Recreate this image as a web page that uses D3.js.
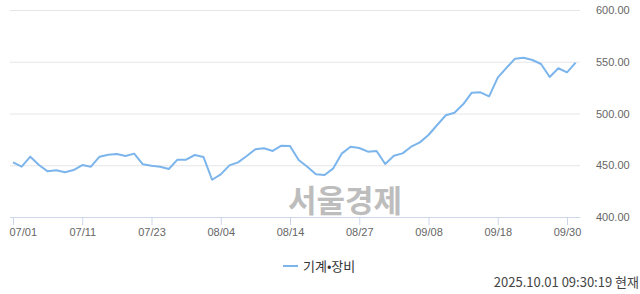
<!DOCTYPE html>
<html>
<head>
<meta charset="utf-8">
<script src="https://cdn.jsdelivr.net/npm/d3@7"></script>
<style>
  body { margin: 0; background: #fff; }
  svg { display: block; font-family: 'Noto Sans CJK KR', 'Noto Sans', sans-serif; }
</style>
</head>
<body>
<div id="chart"></div>
<script>
// trading days, 07/01 ~ 10/01
let dates = ['07/01','07/02','07/03','07/04','07/07','07/08','07/09','07/10','07/11','07/14','07/15','07/16','07/17','07/18','07/21','07/22','07/23','07/24','07/25','07/28','07/29','07/30','07/31',
  '08/01','08/04','08/05','08/06','08/07','08/08','08/11','08/12','08/13','08/14','08/18','08/19','08/20','08/21','08/22','08/25','08/26','08/27','08/28','08/29',
  '09/01','09/02','09/03','09/04','09/05','09/08','09/09','09/10','09/11','09/12','09/15','09/16','09/17','09/18','09/19','09/22','09/23','09/24','09/25','09/26','09/29','09/30',
  '10/01'];
let values = [452.8,448.6,458.3,450.2,444.1,445.1,443.2,445.4,450.2,448.6,458.3,460.2,460.9,458.9,461.2,450.9,449.6,448.6,446.4,455.4,455.4,459.9,458.0,
  436.0,441.2,449.9,452.8,458.9,465.4,466.4,463.8,468.9,468.6,455.1,448.6,441.2,440.6,447.0,461.5,467.9,466.7,463.1,463.8,
  451.2,459.2,461.5,467.9,472.1,479.2,488.9,498.3,500.8,508.9,520.1,520.5,516.6,534.6,544.0,553.0,553.9,551.7,547.8,535.3,543.7,539.8,
  549.1];
let xTicks = ['07/01','07/11','07/23','08/04','08/14','08/27','09/08','09/18','09/30'];
let yTicks = [400, 450, 500, 550, 600];
let seriesName = '기계•장비';
let stamp = '2025.10.01 09:30:19 현재';

let W = 640, H = 294;
let plot = { left: 10, right: 580, top: 10, bottom: 217 };

var svg = d3.select('#chart')
  .append('svg')
    .attr('width', W)
    .attr('height', H);

// X Scale (one step per trading day)
var step = (567 - 13) / 64;
var X = d3.scalePoint()
  .domain(dates)
  .range([13, 13 + step * (dates.length - 1)]);

// Y Scale
var Y = d3.scaleLinear()
  .domain([400, 600])
  .range([plot.bottom, plot.top]);

// grid
svg.append('g')
  .selectAll('line')
  .data(yTicks.filter(function (d) { return d > 400; }))
  .enter().append('line')
    .attr('x1', plot.left)
    .attr('x2', plot.right)
    .attr('y1', function (d) { return Y(d) + 0.5; })
    .attr('y2', function (d) { return Y(d) + 0.5; })
    .attr('stroke', '#e6e6e6');

// Y Axis on the right
var yAxis = d3.axisRight(Y)
  .tickValues(yTicks)
  .tickSize(0)
  .tickPadding(0)
  .tickFormat(d3.format('.2f'));
var yg = svg.append('g')
  .attr('transform', 'translate(596,0)')
  .call(yAxis);
yg.select('.domain').remove();
yg.selectAll('text')
  .attr('font-size', '11px')
  .attr('fill', '#666');

// watermark
svg.append('text')
  .attr('x', 345)
  .attr('y', 212)
  .attr('text-anchor', 'middle')
  .attr('font-size', '31px')
  .attr('font-weight', 'bold')
  .attr('fill', '#bdbdbd')
  .text('서울경제');

// X Axis
var xAxis = d3.axisBottom(X)
  .tickValues(xTicks)
  .tickSize(8)
  .tickPadding(3);
var xg = svg.append('g')
  .attr('transform', 'translate(0,' + plot.bottom + ')')
  .call(xAxis);
xg.select('.domain')
  .attr('d', 'M' + plot.left + ',0.5H' + plot.right)
  .attr('stroke', '#ccd6eb');
xg.selectAll('.tick line').attr('stroke', '#ccd6eb');
xg.selectAll('text')
  .attr('font-size', '11px')
  .attr('fill', '#666');
// first label pushed right so it stays inside the chart
xg.selectAll('.tick text')
  .filter(function (d) { return d === xTicks[0]; })
  .attr('text-anchor', 'start')
  .attr('x', -4);

// line
var line = d3.line()
  .x(function (d, i) { return X(dates[i]); })
  .y(function (d) { return Y(d); });
svg.append('path')
  .datum(values)
  .attr('d', line)
  .attr('fill', 'none')
  .attr('stroke', '#7cb5ec')
  .attr('stroke-width', 2)
  .attr('stroke-linejoin', 'round');

// legend
var lg = svg.append('g').attr('transform', 'translate(283,266)');
lg.append('line')
  .attr('x1', 0).attr('x2', 15)
  .attr('y1', 0).attr('y2', 0)
  .attr('stroke', '#7cb5ec')
  .attr('stroke-width', 2);
lg.append('text')
  .attr('x', 20)
  .attr('y', 4.5)
  .attr('font-size', '13px')
  .attr('fill', '#333')
  .text(seriesName);

// timestamp
svg.append('text')
  .attr('x', 639)
  .attr('y', 287)
  .attr('text-anchor', 'end')
  .attr('font-size', '13px')
  .attr('fill', '#444')
  .text(stamp);
</script>
</body>
</html>
